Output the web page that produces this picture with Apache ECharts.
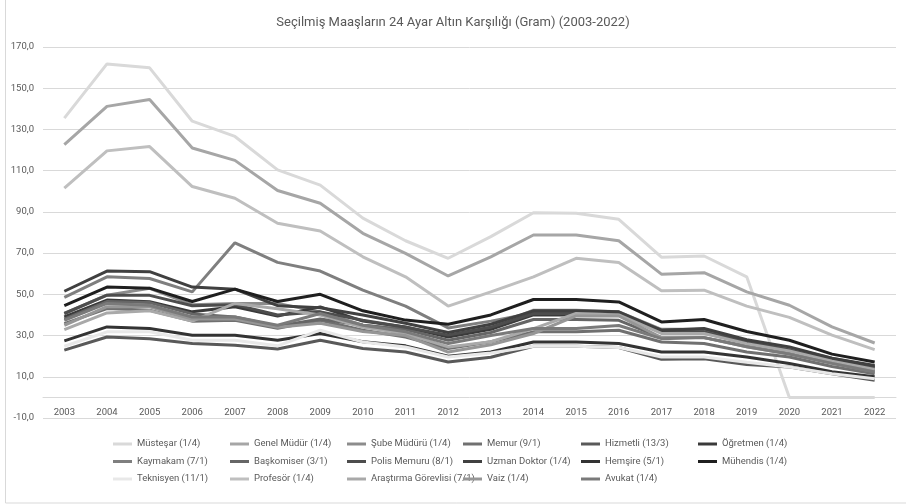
<!DOCTYPE html>
<html>
<head>
<meta charset="utf-8">
<script src="https://cdn.jsdelivr.net/npm/echarts@6/dist/echarts.min.js"></script>
<style>
  html, body { margin: 0; padding: 0; background: #fff; }
  #main { width: 906px; height: 504px; }
</style>
</head>
<body>
<div id="main"></div>
<script>
var years = ['2003','2004','2005','2006','2007','2008','2009','2010','2011','2012',
             '2013','2014','2015','2016','2017','2018','2019','2020','2021','2022'];

// legend order, row by row as in the picture
var names = ['Müsteşar (1/4)', 'Genel Müdür (1/4)', 'Şube Müdürü (1/4)', 'Memur (9/1)', 'Hizmetli (13/3)', 'Öğretmen (1/4)',
             'Kaymakam (7/1)', 'Başkomiser (3/1)', 'Polis Memuru (8/1)', 'Uzman Doktor (1/4)', 'Hemşire (5/1)', 'Mühendis (1/4)',
             'Teknisyen (11/1)', 'Profesör (1/4)', 'Araştırma Görevlisi (7/1)', 'Vaiz (1/4)', 'Avukat (1/4)'];

var colors = ['#d9d9d9', '#a6a6a6', '#8c8c8c', '#707070', '#595959', '#3a3a3a',
              '#7f7f7f', '#666666', '#4d4d4d', '#404040', '#333333', '#1f1f1f',
              '#e8e8e8', '#bfbfbf', '#a9a9a9', '#969696', '#7a7a7a'];

var musteşar   = [135.5,161.8,159.9,134,126.6,110.4,103,87,76,67.5,78,89.6,89.3,86.4,68,68.6,58.5,0,0,0];
var genelMudur = [122.6,141.2,144.5,121,115,100.4,94.2,79.6,69.9,58.9,68.2,78.8,78.8,76,59.8,60.5,51.2,44.7,34.2,26.4];
var subeMuduru = [40.7,49.6,52.9,45,45.6,45.6,41.5,35,33,30.2,34,42.3,42.3,41.5,33,33,27.5,24,19,15];
var memur      = [35.8,43.1,42.3,37,37.4,33.5,37.4,32.6,29.3,23.7,27,31.8,31.8,32.6,26.9,26.1,22,19.6,15,11.5];
var hizmetli   = [22.9,29.3,28.5,26.1,25.3,23.5,27.7,23.7,22,17.2,19.5,24.8,24.8,24.2,18.5,18.8,16,14.7,11.5,8.3];
var ogretmen   = [39,47.2,46.4,41.5,44,39.5,43.9,37,34.2,29.3,33,40,40,40,32.6,33,27.5,23.5,18.5,14.5];
var kaymakam   = [48.5,58.5,57.7,51.2,75,65.5,61.3,52,44.3,33.7,37,41,41,40,31.5,32,27,23.5,18.5,14.5];
var baskomiser = [38,46.5,46,40.5,39,34.5,38,35,33,27.7,31.5,37.8,37.8,37.4,29,29,25,21.5,17,13.5];
var polis      = [40.7,49.6,49.5,44.5,45,40,41.5,37.4,34,30.2,34,40.7,40.7,40,31.8,31.8,27,23,18,14.7];
var doktor     = [51.5,61.3,61,53.5,52.5,44.5,43.5,40,36,31.5,35.5,42,42,41.5,32.5,33.4,28,24.5,19,15.5];
var hemsire    = [27.4,34.2,33.4,30.2,30.2,27.7,31,27,25,20,22,26.9,26.9,26.1,22,22,19.6,16.4,12.5,10];
var muhendis   = [44.5,53.5,53,46.5,52.5,46.5,50,42,37.5,35.5,40,47.5,47.5,46.3,36.6,37.8,32,27.7,21,17.2];
var teknisyen  = [24.8,31.8,31.8,27.7,27.7,25,32.6,26.9,24.5,19.6,21.5,24.8,24.8,24.2,19.6,19.6,17,14.7,11.5,9];
var profesor   = [101.5,119.6,121.7,102.3,96.6,84.5,80.7,68.2,58.5,44.3,51.2,58.5,67.5,65.5,51.7,52,44.3,38.8,30.2,23.2];
var arastirma  = [32.9,41,42,37,45.6,43,40,34,31,24.5,27,33.4,40.7,40,31,31,26,22.5,17.5,13.5];
var vaiz       = [35,44,44,38,38,34,36,32,30,22,25.5,31,39.5,39.5,29,29,24.5,21,16.5,12.5];
var avukat     = [37.4,45.6,44.7,39,39,35,40.7,35,31.8,26.1,30,33.4,33.4,34.9,28.5,29,24.5,21,16.5,12.3];

var values = [musteşar, genelMudur, subeMuduru, memur, hizmetli, ogretmen,
              kaymakam, baskomiser, polis, doktor, hemsire, muhendis,
              teknisyen, profesor, arastirma, vaiz, avukat];

var font = "Roboto, sans-serif";
var textColor = '#595959';

var series = names.map(function (n, i) {
  return {
    name: n,
    type: 'line',
    data: values[i],
    symbol: 'none',
    color: colors[i],
    lineStyle: { width: 3, color: colors[i] },
    emphasis: { disabled: true }
  };
});

// six legend columns, like the excel legend grid
var colLeft = [108, 225, 342, 458, 576, 693];
var legends = colLeft.map(function (x, c) {
  var items = [];
  for (var r = 0; r < 3; r++) {
    if (names[r * 6 + c]) items.push({ name: names[r * 6 + c], icon: 'rect' });
  }
  return {
    data: items,
    orient: 'vertical',
    left: x,
    top: 434,
    itemWidth: 19,
    itemHeight: 3,
    itemGap: 7.5,
    selectedMode: false,
    textStyle: { fontSize: 9.5, color: textColor, fontFamily: font }
  };
});

var myChart = echarts.init(document.getElementById('main'));
var option = {
  animation: false,
  backgroundColor: '#fff',
  title: {
    text: 'Seçilmiş Maaşların 24 Ayar Altın Karşılığı (Gram) (2003-2022)',
    left: 'center',
    top: 11,
    textStyle: { fontSize: 13, fontWeight: 'normal', color: textColor, fontFamily: font }
  },
  legend: legends,
  grid: { left: 43, right: 10, top: 47, bottom: 86 },
  xAxis: {
    type: 'category',
    data: years,
    boundaryGap: true,
    offset: -20.6,
    axisLine: { onZero: false, lineStyle: { color: '#d9d9d9', width: 1 } },
    axisTick: { show: false },
    axisLabel: { color: textColor, fontSize: 9.5, fontFamily: font, margin: 10 }
  },
  yAxis: {
    type: 'value',
    min: -10,
    max: 170,
    interval: 20,
    axisLine: { show: false },
    axisTick: { show: false },
    splitLine: { lineStyle: { color: '#d9d9d9', width: 1 } },
    axisLabel: {
      color: textColor, fontSize: 9.5, fontFamily: font, margin: 9,
      formatter: function (v) { return v.toFixed(1).replace('.', ','); }
    }
  },
  graphic: [{
    type: 'rect',
    shape: { x: 5.5, y: -2, width: 920, height: 505 },
    style: { fill: 'none', stroke: '#d9d9d9', lineWidth: 1 },
    silent: true
  }],
  series: series
};
myChart.setOption(option);
</script>
</body>
</html>
